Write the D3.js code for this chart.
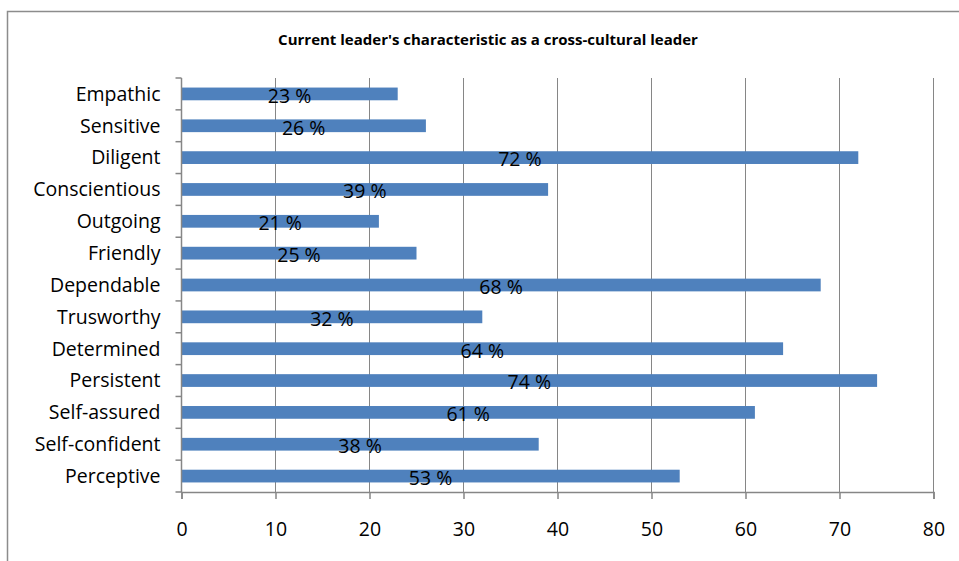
<!DOCTYPE html>
<html>
<head>
<meta charset="utf-8">
<script src="https://cdn.jsdelivr.net/npm/d3@7"></script>
<style>
  html, body { margin: 0; padding: 0; background: #fff; }
  svg { display: block; }
</style>
</head>
<body>
<svg id="chart" width="959" height="561"></svg>
<script>
// Characteristics, top to bottom
const categories = ["Empathic", "Sensitive", "Diligent", "Conscientious", "Outgoing", "Friendly",
  "Dependable", "Trusworthy", "Determined", "Persistent", "Self-assured", "Self-confident", "Perceptive"];
// Share of respondents (%)
const values = [23, 26, 72, 39, 21, 25, 68, 32, 64, 74, 61, 38, 53];
const xTicks = [0, 10, 20, 30, 40, 50, 60, 70, 80];
const title = "Current leader's characteristic as a cross-cultural leader";

const svg = d3.select("#chart");
const font = "'Open Sans', sans-serif";
const fs = 19.5;

// Outer chart frame
svg.append("rect").attr("x", 7.5).attr("y", 11.5).attr("width", 1000).attr("height", 600)
  .attr("fill", "none").attr("stroke", "#8c8c8c").attr("stroke-width", 1.5);

const plot = { left: 181.5, right: 933.5, top: 78, bottom: 492 };

const x = d3.scaleLinear().domain([0, 80]).range([plot.left, plot.right]);
const y = d3.scaleBand().domain(categories).range([plot.top, plot.bottom]).paddingInner(0.6).paddingOuter(0.3);
const yEdge = d3.scaleLinear().domain([0, categories.length]).range([plot.top, plot.bottom]);

// Vertical gridlines
svg.append("g").selectAll("line").data(xTicks.slice(1)).join("line")
  .attr("x1", d => x(d)).attr("x2", d => x(d))
  .attr("y1", plot.top).attr("y2", plot.bottom)
  .attr("stroke", "#868686").attr("stroke-width", 1);

// Bars
svg.append("g").selectAll("rect").data(values).join("rect")
  .attr("x", x(0))
  .attr("y", (d, i) => y(categories[i]))
  .attr("width", d => x(d) - x(0))
  .attr("height", y.bandwidth())
  .attr("fill", "#4F81BD");

// X axis
const xAxis = d3.axisBottom(x).tickValues(xTicks).tickSize(7).tickPadding(23);
const gx = svg.append("g").attr("transform", `translate(0,${plot.bottom})`).call(xAxis);
gx.select(".domain").attr("stroke", "#868686").attr("stroke-width", 1.5);
gx.selectAll(".tick line").attr("stroke", "#868686").attr("stroke-width", 1.5);
gx.selectAll(".tick text").attr("font-family", font).attr("font-size", fs).attr("fill", "#000");

// Y axis: ticks at category boundaries
svg.append("line").attr("x1", plot.left).attr("x2", plot.left)
  .attr("y1", plot.top).attr("y2", plot.bottom)
  .attr("stroke", "#868686").attr("stroke-width", 1.5);
svg.append("g").selectAll("line").data(d3.range(categories.length + 1)).join("line")
  .attr("x1", plot.left - 6).attr("x2", plot.left)
  .attr("y1", d => yEdge(d)).attr("y2", d => yEdge(d))
  .attr("stroke", "#868686").attr("stroke-width", 1.5);

// Category labels
svg.append("g").selectAll("text").data(categories).join("text")
  .attr("x", plot.left - 21)
  .attr("y", d => y(d) + y.bandwidth() / 2)
  .attr("dy", "0.35em")
  .attr("text-anchor", "end")
  .attr("font-family", font).attr("font-size", fs).attr("fill", "#000")
  .text(d => d);

// Data labels centred on each bar
svg.append("g").selectAll("text").data(values).join("text")
  .attr("x", d => (x(0) + x(d)) / 2)
  .attr("y", (d, i) => y(categories[i]) + y.bandwidth() / 2 + 2)
  .attr("dy", "0.35em")
  .attr("text-anchor", "middle")
  .attr("font-family", font).attr("font-size", fs).attr("fill", "#000")
  .text(d => d + " %");

// Title
svg.append("text").attr("x", 488).attr("y", 40).attr("dy", "0.35em")
  .attr("text-anchor", "middle")
  .attr("font-family", font).attr("font-size", 15).attr("font-weight", "bold").attr("fill", "#000")
  .text(title);
</script>
</body>
</html>
